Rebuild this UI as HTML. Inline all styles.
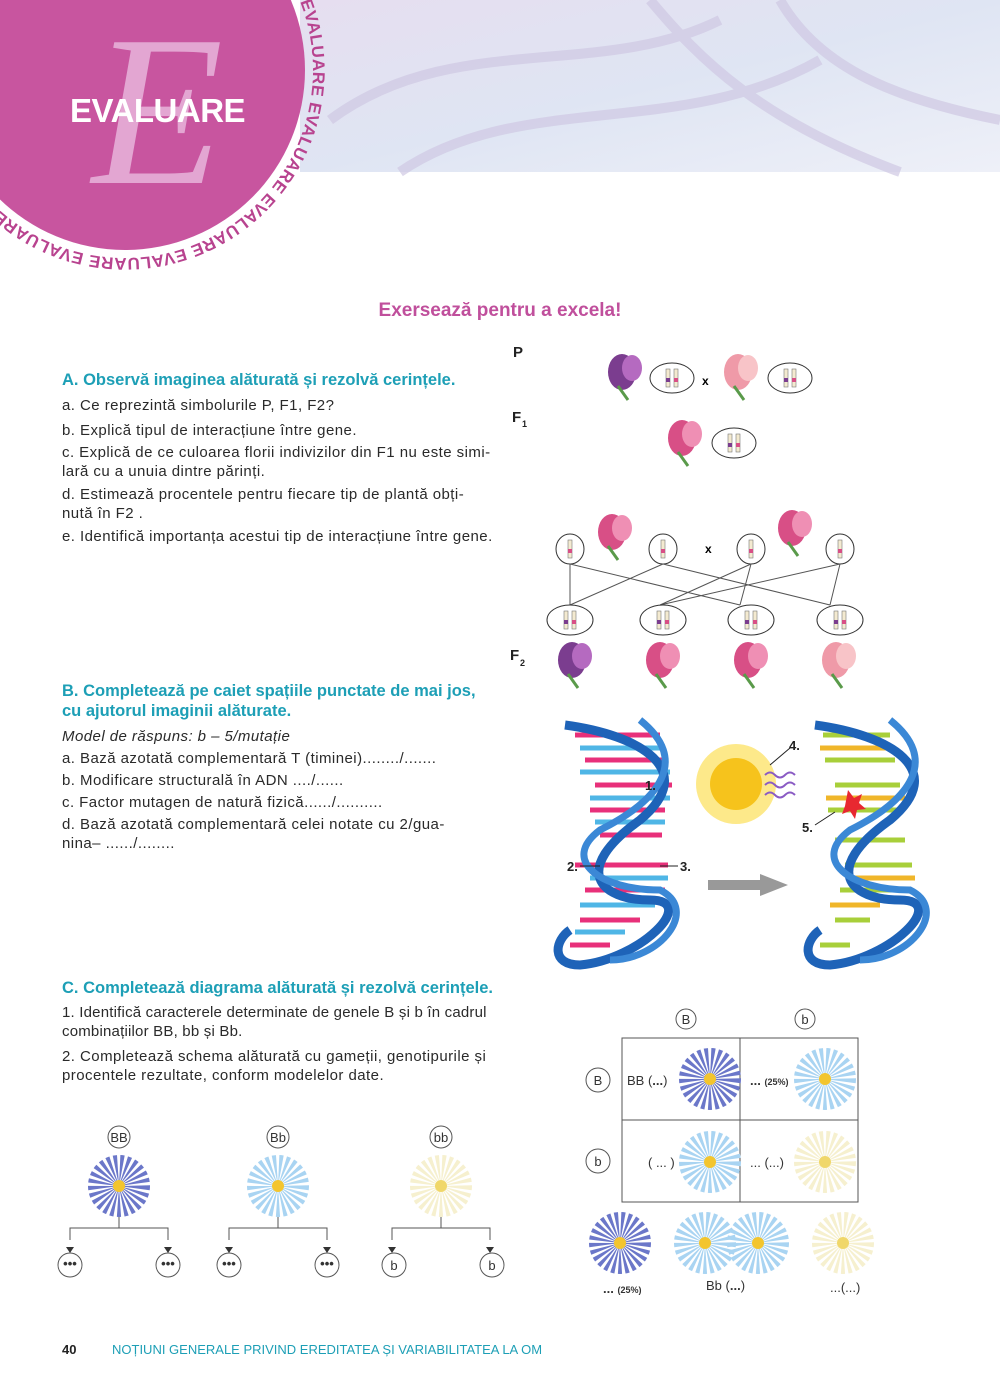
<!DOCTYPE html>
<html><head><meta charset="utf-8">
<style>
html,body{margin:0;padding:0;background:#fff;}
body{width:1000px;height:1390px;position:relative;overflow:hidden;font-family:"Liberation Sans",sans-serif;color:#2a2a2a;}
.t{position:absolute;font-size:15px;letter-spacing:.45px;line-height:19px;}
.h{position:absolute;font-size:16.5px;font-weight:bold;color:#1d9fb6;line-height:20px;}
</style></head><body>
<svg width="1000" height="1390" style="position:absolute;left:0;top:0">
<defs>
<linearGradient id="bg" x1="0" y1="0" x2="1" y2="1">
<stop offset="0" stop-color="#e6def0"/><stop offset="0.5" stop-color="#dfe5f3"/><stop offset="1" stop-color="#eef0f8"/></linearGradient>
<g id="daisyD"><circle r="18" fill="none" stroke="#6b77c9" stroke-width="26" stroke-dasharray="2.5 2"/><circle r="6" fill="#f3c52e"/></g>
<g id="daisyL"><circle r="18" fill="none" stroke="#a9d4f2" stroke-width="26" stroke-dasharray="2.5 2"/><circle r="6" fill="#f3c52e"/></g>
<g id="daisyY"><circle r="18" fill="none" stroke="#f6f0cf" stroke-width="26" stroke-dasharray="2.5 2"/><circle r="6" fill="#f0d76a"/></g>
<g id="peaP"><ellipse cx="0" cy="0" rx="14" ry="18" fill="#7b3d8f"/><ellipse cx="10" cy="-4" rx="10" ry="13" fill="#b56ac0"/><path d="M-4 14 l10 14" stroke="#5a9a4a" stroke-width="3"/></g>
<g id="peaK"><ellipse cx="0" cy="0" rx="14" ry="18" fill="#d84f86"/><ellipse cx="10" cy="-4" rx="10" ry="13" fill="#ef8fb4"/><path d="M-4 14 l10 14" stroke="#5a9a4a" stroke-width="3"/></g>
<g id="peaL"><ellipse cx="0" cy="0" rx="14" ry="18" fill="#ef9aa8"/><ellipse cx="10" cy="-4" rx="10" ry="13" fill="#f8c4c8"/><path d="M-4 14 l10 14" stroke="#5a9a4a" stroke-width="3"/></g>
<g id="chr2"><rect x="-6" y="-9" width="4" height="18" fill="#f4ead0" stroke="#777" stroke-width=".6"/><rect x="2" y="-9" width="4" height="18" fill="#f4ead0" stroke="#777" stroke-width=".6"/><rect x="-6" y="0" width="4" height="4" fill="#7b3d8f"/><rect x="2" y="0" width="4" height="4" fill="#d84f86"/></g>
<g id="chr1"><rect x="-2" y="-9" width="4" height="18" fill="#f4ead0" stroke="#777" stroke-width=".6"/><rect x="-2" y="0" width="4" height="4" fill="#d84f86"/></g>
<path id="ring" d="M125 -118 A188 188 0 1 1 124.9 -118"/>
</defs>
<rect x="300" y="0" width="700" height="172" fill="url(#bg)"/>
<path d="M330 120 C450 30 600 80 720 20 M400 172 C520 90 680 140 820 60 M650 0 C700 60 760 120 900 172 M780 0 C820 70 900 100 1000 120" stroke="#cfc8e2" stroke-width="10" fill="none" opacity=".7"/>
<circle cx="125" cy="70" r="180" fill="#c8559f"/>
<text x="92" y="183" font-family="Liberation Serif" font-style="italic" font-size="215" fill="#e3a6d2">E</text>
<text x="70" y="122" font-size="33" font-weight="bold" fill="#fff" letter-spacing="-0.5">EVALUARE</text>
<text font-size="17" font-weight="bold" fill="#b8438f" letter-spacing="0.5"><textPath href="#ring" startOffset="225">EVALUARE EVALUARE EVALUARE EVALUARE EVALUARE</textPath></text>

<g font-weight="bold" font-size="15" fill="#222"><text x="513" y="357">P</text><text x="512" y="422">F</text><text x="522" y="427" font-size="9">1</text><text x="510" y="660">F</text><text x="520" y="666" font-size="9">2</text></g>
<use href="#peaP" x="622" y="372"/><ellipse cx="672" cy="378" rx="22" ry="15" fill="#fff" stroke="#333"/><use href="#chr2" x="672" y="378"/>
<text x="702" y="385" font-size="12" font-weight="bold">x</text>
<use href="#peaL" x="738" y="372"/><ellipse cx="790" cy="378" rx="22" ry="15" fill="#fff" stroke="#333"/><use href="#chr2" x="790" y="378"/>
<use href="#peaK" x="682" y="438"/><ellipse cx="734" cy="443" rx="22" ry="15" fill="#fff" stroke="#333"/><use href="#chr2" x="734" y="443"/>
<g stroke="#333" fill="#fff">
<ellipse cx="570" cy="549" rx="14" ry="15"/><ellipse cx="663" cy="549" rx="14" ry="15"/><ellipse cx="751" cy="549" rx="14" ry="15"/><ellipse cx="840" cy="549" rx="14" ry="15"/>
<path d="M570 564 L570 605 M570 564 L740 605 M663 564 L570 605 M663 564 L830 605 M751 564 L660 605 M751 564 L740 605 M840 564 L660 605 M840 564 L830 605" fill="none" stroke="#555"/>
<ellipse cx="570" cy="620" rx="23" ry="15"/><ellipse cx="663" cy="620" rx="23" ry="15"/><ellipse cx="751" cy="620" rx="23" ry="15"/><ellipse cx="840" cy="620" rx="23" ry="15"/>
</g>
<use href="#chr1" x="570" y="549"/><use href="#chr1" x="663" y="549"/><use href="#chr1" x="751" y="549"/><use href="#chr1" x="840" y="549"/>
<use href="#chr2" x="570" y="620"/><use href="#chr2" x="663" y="620"/><use href="#chr2" x="751" y="620"/><use href="#chr2" x="840" y="620"/>
<text x="705" y="553" font-size="12" font-weight="bold">x</text>
<use href="#peaK" x="612" y="532"/><use href="#peaK" x="792" y="528"/>
<use href="#peaP" x="572" y="660"/><use href="#peaK" x="660" y="660"/><use href="#peaK" x="748" y="660"/><use href="#peaL" x="836" y="660"/>

<g stroke-width="5">
<path d="M575 735 H660 M585 760 H668 M595 785 H672 M590 810 H665 M600 835 H662 M575 865 H668 M585 890 H665 M580 920 H640 M570 945 H610" stroke="#e8307a"/>
<path d="M580 748 H665 M580 772 H670 M590 798 H670 M595 822 H665 M590 878 H668 M580 905 H655 M575 932 H625" stroke="#4fb6e6"/>
<path d="M823 735 H890 M825 760 H895 M835 785 H900 M828 810 H900 M835 840 H905 M845 865 H912 M840 890 H905 M835 920 H870 M820 945 H850" stroke="#a8cf3a"/>
<path d="M820 748 H890 M826 798 H905 M848 878 H915 M830 905 H880" stroke="#f0b62a"/>
</g>
<path d="M565 725 C640 735 700 770 640 820 C570 870 600 900 650 900 C700 900 640 960 580 965 C550 965 555 940 570 930" fill="none" stroke="#1e63b8" stroke-width="9"/>
<path d="M640 720 C690 760 660 800 600 830 C560 860 600 890 660 890 C700 910 660 960 610 960" fill="none" stroke="#3b88d6" stroke-width="7"/>
<path d="M815 725 C890 735 950 770 890 820 C820 870 850 900 900 900 C950 900 890 960 830 965 C800 965 805 940 820 930" fill="none" stroke="#1e63b8" stroke-width="9"/>
<path d="M890 720 C940 760 910 800 850 830 C810 860 850 890 910 890 C950 910 910 960 860 960" fill="none" stroke="#3b88d6" stroke-width="7"/>
<circle cx="736" cy="784" r="40" fill="#fde98a"/><circle cx="736" cy="784" r="26" fill="#f6c31c"/>
<path d="M765 775 q5 -5 10 0 t10 0 t10 0 M765 785 q5 -5 10 0 t10 0 t10 0 M765 795 q5 -5 10 0 t10 0 t10 0" stroke="#8a5bc4" fill="none" stroke-width="2"/>
<path d="M770 765 L790 748 M815 825 L835 812" stroke="#222"/>
<path d="M848 790 l6 8 l8 -4 l-3 9 l7 6 l-9 1 l-2 9 l-5 -8 l-8 3 l3 -8 z" fill="#e82830"/>
<rect x="708" y="880" width="55" height="10" fill="#999"/><path d="M760 874 L788 885 L760 896 Z" fill="#999"/>
<g font-size="13" font-weight="bold" fill="#222"><text x="645" y="790">1.</text><text x="567" y="871">2.</text><text x="680" y="871">3.</text><text x="789" y="750">4.</text><text x="802" y="832">5.</text></g>
<path d="M580 866 H600 M660 866 H678" stroke="#222"/>

<g fill="none" stroke="#555"><rect x="622" y="1038" width="236" height="164"/><path d="M740 1038 V1202 M622 1120 H858"/>
<circle cx="686" cy="1019" r="10"/><circle cx="805" cy="1019" r="10"/><circle cx="598" cy="1080" r="12"/><circle cx="598" cy="1161" r="12"/></g>
<g font-size="13" fill="#333" text-anchor="middle"><text x="686" y="1024">B</text><text x="805" y="1024">b</text><text x="598" y="1085">B</text><text x="598" y="1166">b</text></g>
<use href="#daisyD" x="710" y="1079"/><use href="#daisyL" x="825" y="1079"/><use href="#daisyL" x="710" y="1162"/><use href="#daisyY" x="825" y="1162"/>
<g font-size="13" fill="#333"><text x="627" y="1085">BB (<tspan font-weight="bold">...</tspan>)</text><text x="750" y="1085" font-weight="bold">... <tspan font-size="9">(25%)</tspan></text>
<text x="648" y="1167">( ... )</text><text x="750" y="1167">... (...)</text>
<text x="603" y="1293" font-weight="bold">... <tspan font-size="9">(25%)</tspan></text><text x="706" y="1290">Bb (<tspan font-weight="bold">...</tspan>)</text><text x="830" y="1292">...(...)</text></g>
<use href="#daisyD" x="620" y="1243"/><use href="#daisyL" x="705" y="1243"/><use href="#daisyL" x="758" y="1243"/><use href="#daisyY" x="843" y="1243"/>

<g fill="none" stroke="#555">
<circle cx="119" cy="1137" r="11"/><circle cx="278" cy="1137" r="11"/><circle cx="441" cy="1137" r="11"/>
<path d="M119 1210 V1228 M70 1240 V1228 H168 V1240 M278 1210 V1228 M229 1240 V1228 H327 V1240 M441 1210 V1228 M392 1240 V1228 H490 V1240"/>
<circle cx="70" cy="1265" r="12"/><circle cx="168" cy="1265" r="12"/><circle cx="229" cy="1265" r="12"/><circle cx="327" cy="1265" r="12"/><circle cx="394" cy="1265" r="12"/><circle cx="492" cy="1265" r="12"/></g>
<g fill="#333"><path d="M66 1247 l4 6 l4 -6z M164 1247 l4 6 l4 -6z M225 1247 l4 6 l4 -6z M323 1247 l4 6 l4 -6z M388 1247 l4 6 l4 -6z M486 1247 l4 6 l4 -6z"/></g>
<g font-size="13" fill="#333" text-anchor="middle"><text x="119" y="1142">BB</text><text x="278" y="1142">Bb</text><text x="441" y="1142">bb</text>
<text x="70" y="1268" font-weight="bold">•••</text><text x="168" y="1268" font-weight="bold">•••</text><text x="229" y="1268" font-weight="bold">•••</text><text x="327" y="1268" font-weight="bold">•••</text><text x="394" y="1270">b</text><text x="492" y="1270">b</text></g>
<use href="#daisyD" x="119" y="1186"/><use href="#daisyL" x="278" y="1186"/><use href="#daisyY" x="441" y="1186"/>
</svg>

<div style="position:absolute;left:0;top:300px;width:1000px;text-align:center;font-size:19px;font-weight:bold;color:#c04f9c">Exersează pentru a excela!</div>

<div class="h" style="left:62px;top:370px">A. Observă imaginea alăturată  și rezolvă cerințele.</div>
<div class="t" style="left:62px;top:396px">a. Ce reprezintă simbolurile P, F1, F2?</div>
<div class="t" style="left:62px;top:421px">b. Explică tipul de interacțiune între gene.</div>
<div class="t" style="left:62px;top:443px;width:440px">c. Explică de ce culoarea florii indivizilor din F1 nu este simi-<br>lară cu a unuia dintre părinți.</div>
<div class="t" style="left:62px;top:485px;width:440px">d. Estimează procentele pentru fiecare tip de plantă obți-<br>nută în F2 .</div>
<div class="t" style="left:62px;top:527px">e. Identifică importanța acestui tip de interacțiune între gene.</div>

<div class="h" style="left:62px;top:681px">B. Completează pe caiet spațiile punctate de mai jos,<br>cu ajutorul imaginii alăturate.</div>
<div class="t" style="left:62px;top:727px;font-style:italic">Model de răspuns: b – 5/mutație</div>
<div class="t" style="left:62px;top:749px">a. Bază azotată complementară T (timinei)......../.......</div>
<div class="t" style="left:62px;top:771px">b. Modificare structurală în ADN ..../......</div>
<div class="t" style="left:62px;top:793px">c. Factor mutagen de natură fizică....../..........</div>
<div class="t" style="left:62px;top:815px;width:440px">d. Bază azotată complementară celei notate cu 2/gua-<br>nina– ....../........</div>

<div class="h" style="left:62px;top:978px">C. Completează diagrama alăturată și rezolvă cerințele.</div>
<div class="t" style="left:62px;top:1003px;width:460px;letter-spacing:.2px">1. Identifică caracterele determinate de genele B și b în cadrul<br>combinațiilor BB, bb și Bb.</div>
<div class="t" style="left:62px;top:1047px;width:440px">2. Completează schema alăturată cu gameții, genotipurile și procentele rezultate, conform modelelor date.</div>

<div style="position:absolute;left:62px;top:1342px;font-size:13px;font-weight:bold;color:#222">40</div>
<div style="position:absolute;left:112px;top:1342px;font-size:13px;color:#1d9fb6">NOȚIUNI GENERALE PRIVIND EREDITATEA ȘI VARIABILITATEA LA OM</div>
</body></html>
